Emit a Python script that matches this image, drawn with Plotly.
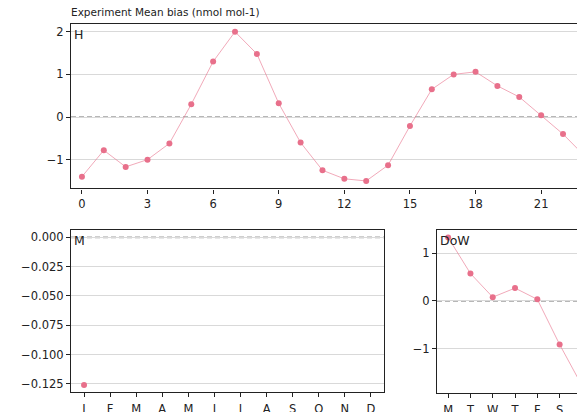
import plotly.graph_objects as go

title_text = "Experiment Mean bias (nmol mol-1)"

hours = list(range(24))
hour_bias = [-1.40, -0.78, -1.17, -1.00, -0.62, 0.30, 1.30, 2.00, 1.48, 0.32,
             -0.60, -1.25, -1.45, -1.50, -1.13, -0.21, 0.65, 1.00, 1.06, 0.73,
             0.47, 0.04, -0.40, -0.92]
hour_ticks = [0, 3, 6, 9, 12, 15, 18, 21]

month_labels = ["J", "F", "M", "A", "M", "J", "J", "A", "S", "O", "N", "D"]
month_bias = [-0.126]

dow_labels = ["M", "T", "W", "T", "F", "S", "S"]
dow_bias = [1.33, 0.575, 0.08, 0.27, 0.035, -0.91, -1.77]

W, H = 577, 412
marker_col = "#e8708b"
line_col = "rgba(232,112,139,0.6)"
font_fam = "DejaVu Sans"
tick_size = 11.5

def px_x(p):
    return p / W

def px_y(p):
    return 1 - p / H

fig = go.Figure()

def add_series(x, y, xa, ya):
    fig.add_trace(go.Scatter(
        x=x, y=y, mode="lines+markers", xaxis=xa, yaxis=ya,
        line=dict(color=line_col, width=1),
        marker=dict(color=marker_col, size=6),
        showlegend=False, cliponaxis=True))

add_series(hours, hour_bias, "x", "y")
add_series(list(range(len(month_bias))), month_bias, "x2", "y2")
add_series(list(range(len(dow_bias))), dow_bias, "x3", "y3")

axis_common = dict(
    showline=True, linecolor="#222", linewidth=1.2,
    ticks="outside", ticklen=4, tickcolor="#222", tickwidth=1,
    tickfont=dict(family=font_fam, size=tick_size, color="#222"),
    zeroline=False, automargin=False,
)

fig.update_layout(
    width=W, height=H, autosize=False,
    margin=dict(l=0, r=0, t=0, b=0, pad=0),
    plot_bgcolor="white", paper_bgcolor="white",
    font=dict(family=font_fam, color="#222"),
    xaxis=dict(domain=[px_x(71), 1.0], range=[-0.5, 22.64], anchor="y",
               tickvals=hour_ticks, showgrid=False, mirror=True,
               ticklabelstandoff=1, **axis_common),
    yaxis=dict(domain=[px_y(188.4), px_y(24.3)], range=[-1.675, 2.175], anchor="x",
               tickvals=[-1, 0, 1, 2], showgrid=True, gridcolor="#d9d9d9",
               gridwidth=1, mirror=False, **axis_common),
    xaxis2=dict(domain=[px_x(71), px_x(384)], range=[-0.5, 11.5], anchor="y2",
                tickvals=list(range(12)), ticktext=month_labels, showgrid=False,
                mirror=True, ticklabelstandoff=2, **axis_common),
    yaxis2=dict(domain=[px_y(392.3), px_y(230)], range=[-0.1323, 0.0063], anchor="x2",
                tickvals=[0, -0.025, -0.05, -0.075, -0.1, -0.125], tickformat=".3f",
                showgrid=True, gridcolor="#d9d9d9", gridwidth=1, mirror=True,
                **axis_common),
    xaxis3=dict(domain=[px_x(437), 1.0], range=[-0.5, 5.78], anchor="y3",
                tickvals=list(range(7)), ticktext=dow_labels, showgrid=False,
                mirror=True, ticklabelstandoff=2, **axis_common),
    yaxis3=dict(domain=[px_y(392.7), px_y(230.3)], range=[-1.92, 1.48], anchor="x3",
                tickvals=[-1, 0, 1], showgrid=True, gridcolor="#d9d9d9",
                gridwidth=1, mirror=False, **axis_common),
)

for xa, ya in [("x", "y"), ("x2", "y2"), ("x3", "y3")]:
    fig.add_shape(type="line", xref=f"{xa} domain", yref=ya, x0=0, x1=1, y0=0, y1=0,
                  line=dict(color="#a0a0a0", width=1.6, dash="5px,3px"), layer="below")

for xa, ya, label in [("x", "y", "H"), ("x2", "y2", "M"), ("x3", "y3", "DoW")]:
    fig.add_annotation(text=label, xref=f"{xa} domain", yref=f"{ya} domain",
                       x=0.0, y=1.0, xanchor="left", yanchor="top", showarrow=False,
                       xshift=1, yshift=-1,
                       font=dict(family=font_fam, size=12.5, color="#222"))

fig.add_annotation(text=title_text, xref="paper", yref="paper",
                   x=px_x(69), y=px_y(4), xanchor="left", yanchor="top",
                   showarrow=False, font=dict(family=font_fam, size=10.5, color="#222"))

fig.write_html("out.html", config={"displayModeBar": False, "responsive": False},
               post_script="document.documentElement.style.margin='0';document.body.style.margin='0';document.body.style.overflow='hidden';")
